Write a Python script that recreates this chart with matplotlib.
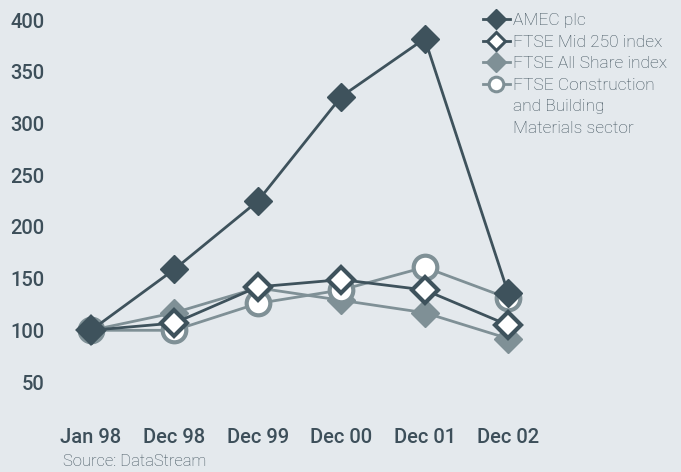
import matplotlib
matplotlib.use('Agg')
from matplotlib import pyplot as plt
from matplotlib.lines import Line2D

# data
periods = ['Jan 98', 'Dec 98', 'Dec 99', 'Dec 00', 'Dec 01', 'Dec 02']
amec = [100, 159, 225, 326, 382, 136]
mid250 = [100, 107, 142, 149, 139, 105]
all_share = [100, 117, 141, 129, 117, 92]
construction = [100, 100, 126, 139, 161, 131]
y_ticks = [50, 100, 150, 200, 250, 300, 350, 400]

bg = '#e4e9ed'
dark = '#3e525c'
grey = '#7f9096'
txt = '#3d4f5a'

plt.rcParams['font.family'] = ['Roboto', 'DejaVu Sans']

fig = plt.figure(figsize=(6.81, 4.72), dpi=100, facecolor=bg)
ax = fig.add_axes([60/681, 72/472, 610/681, 390/472], facecolor=bg)

x = list(range(len(periods)))

ax.plot(x, all_share, color=grey, lw=2, marker='D', ms=14, mfc=grey, mec=grey, mew=1, zorder=2)
ax.plot(x, construction, color=grey, lw=2, marker='o', ms=17, mfc='white', mec=grey, mew=3, zorder=3)
ax.plot(x, mid250, color=dark, lw=2, marker='D', ms=13, mfc='white', mec=dark, mew=3, zorder=4)
ax.plot(x, amec, color=dark, lw=2, marker='D', ms=14, mfc=dark, mec=dark, mew=1, zorder=5)

ax.set_xlim(-0.372, 6.94)
ax.set_ylim(32.6, 409.7)
ax.set_xticks(x)
ax.set_xticklabels(periods)
ax.set_yticks(y_ticks)
for s in ax.spines.values():
    s.set_visible(False)
ax.tick_params(axis='both', length=0, labelsize=14.5, labelcolor=txt)
ax.tick_params(axis='y', pad=11)
ax.tick_params(axis='x', pad=20)
for lab in ax.get_xticklabels() + ax.get_yticklabels():
    lab.set_fontweight('medium')

# legend, the long label split over three rows
handles = [
    Line2D([], [], color=dark, lw=2, marker='D', ms=10, mfc=dark, mec=dark),
    Line2D([], [], color=dark, lw=2, marker='D', ms=9, mfc='white', mec=dark, mew=2.2),
    Line2D([], [], color=grey, lw=2, marker='D', ms=10, mfc=grey, mec=grey),
    Line2D([], [], color=grey, lw=2, marker='o', ms=10.5, mfc='white', mec=grey, mew=2.2),
    Line2D([], [], linestyle='none'),
    Line2D([], [], linestyle='none'),
]
labels = ['AMEC plc', 'FTSE Mid 250 index', 'FTSE All Share index',
          'FTSE Construction', 'and Building', 'Materials sector']
leg = fig.legend(handles, labels, loc='upper left', bbox_to_anchor=(483/681, 1 - 13/472),
                 frameon=False, borderpad=0, borderaxespad=0, handlelength=1.55,
                 handletextpad=0.15, labelspacing=0.37,
                 prop={'size': 12.5, 'weight': 'light'})
for t in leg.get_texts():
    t.set_color(txt)

fig.text(63/681, 1 - 461/472, 'Source: DataStream', fontsize=12, fontweight='light',
         color=txt, va='center', ha='left')

fig.savefig('out.png', dpi=100, facecolor=bg)
